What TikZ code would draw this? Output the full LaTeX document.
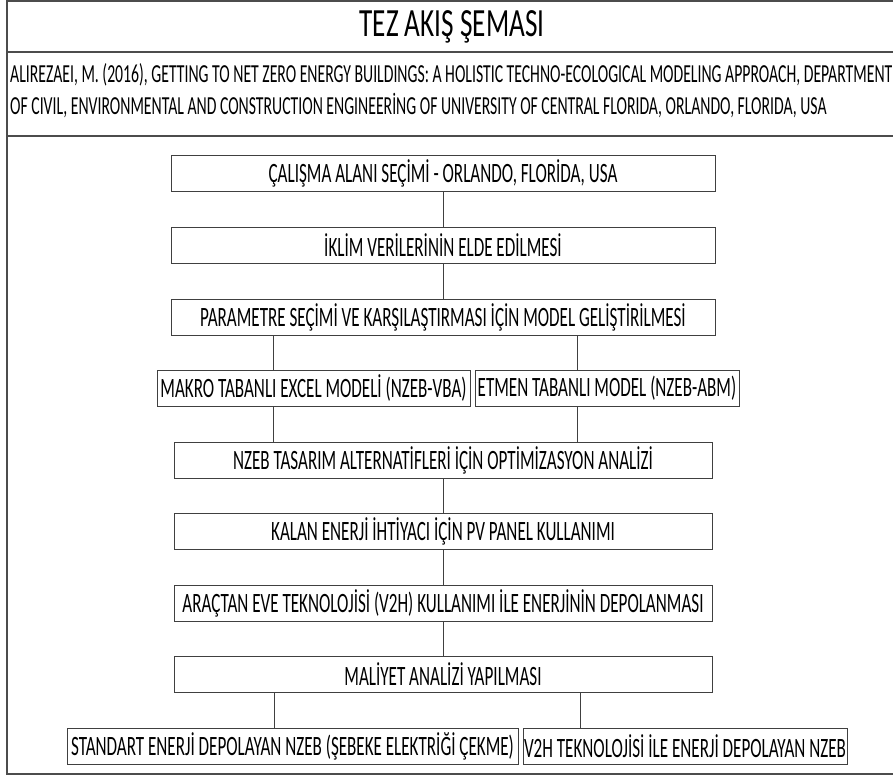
\documentclass[tikz,border=0pt]{standalone}
\usepackage{fontspec}
\setmainfont{Carlito}[FakeStretch=0.68]
\newfontfamily\stepfont{Carlito}[FakeStretch=0.61]
\newfontfamily\reffont{Carlito}[FakeStretch=0.605]
\begin{document}
\begin{tikzpicture}[x=1pt,y=-1pt,
  framel/.style={draw=black!70,line width=1.6pt},
  stepbox/.style={draw=black!75,line width=1pt,rectangle,minimum height=36pt,inner sep=0pt,
    font=\stepfont\fontsize{28}{32}\selectfont},
  link/.style={draw=black!75,line width=1pt}]
\useasboundingbox (0,0) rectangle (893,776);
% page frame and header dividers
\draw[framel] (930,1) -- (7,1) -- (7,774) -- (930,774);
\draw[framel] (7,52) -- (930,52);
\draw[framel] (7,136) -- (930,136);
\node (title) at (452,27) {\fontsize{40}{46}\selectfont TEZ AKIŞ ŞEMASI};
\node[anchor=west,align=left,inner sep=0pt,font=\reffont\fontsize{26}{32}\selectfont] (ref) at (10,91)
  {ALIREZAEI, M. (2016), GETTING TO NET ZERO ENERGY BUILDINGS: A HOLISTIC TECHNO-ECOLOGICAL MODELING APPROACH, DEPARTMENT\\
   OF CIVIL, ENVIRONMENTAL AND CONSTRUCTION ENGINEERİNG OF UNIVERSITY OF CENTRAL FLORIDA, ORLANDO, FLORIDA, USA};
% flow steps
\node[stepbox,minimum width=544pt] (b1) at (443,173.5) {ÇALIŞMA ALANI SEÇİMİ - ORLANDO, FLORİDA, USA};
\node[stepbox,minimum width=544pt] (b2) at (443,245.5) {İKLİM VERİLERİNİN ELDE EDİLMESİ};
\node[stepbox,minimum width=544pt] (b3) at (443,317) {PARAMETRE SEÇİMİ VE KARŞILAŞTIRMASI İÇİN MODEL GELİŞTİRİLMESİ};
\node[stepbox,minimum width=313pt] (b4a) at (313.5,388) {MAKRO TABANLI EXCEL MODELİ (NZEB-VBA)};
\node[stepbox,minimum width=264pt] (b4b) at (607,388) {ETMEN TABANLI MODEL (NZEB-ABM)};
\node[stepbox,minimum width=538pt] (b5) at (443,460) {NZEB TASARIM ALTERNATİFLERİ İÇİN OPTİMİZASYON ANALİZİ};
\node[stepbox,minimum width=538pt] (b6) at (443,531.5) {KALAN ENERJİ İHTİYACI İÇİN PV PANEL KULLANIMI};
\node[stepbox,minimum width=538pt] (b7) at (443,603) {ARAÇTAN EVE TEKNOLOJİSİ (V2H) KULLANIMI İLE ENERJİNİN DEPOLANMASI};
\node[stepbox,minimum width=538pt] (b8) at (443,674) {MALİYET ANALİZİ YAPILMASI};
\node[stepbox,minimum width=451pt] (b9a) at (292.5,746) {STANDART ENERJİ DEPOLAYAN NZEB (ŞEBEKE ELEKTRİĞİ ÇEKME)};
\node[stepbox,minimum width=324pt] (b9b) at (685,746) {V2H TEKNOLOJİSİ İLE ENERJİ DEPOLAYAN NZEB};
% connector columns
\coordinate (cl) at (273,0);
\coordinate (cr) at (577,0);
\coordinate (cl2) at (274,0);
\coordinate (cr2) at (580,0);
\draw[link] (b1) -- (b2);
\draw[link] (b2) -- (b3);
\draw[link] (b3.south -| cl) -- (b4a.north -| cl);
\draw[link] (b3.south -| cr) -- (b4b.north -| cr);
\draw[link] (b4a.south -| cl) -- (b5.north -| cl);
\draw[link] (b4b.south -| cr) -- (b5.north -| cr);
\draw[link] (b5) -- (b6);
\draw[link] (b6) -- (b7);
\draw[link] (b7) -- (b8);
\draw[link] (b8.south -| cl2) -- (b9a.north -| cl2);
\draw[link] (b8.south -| cr2) -- (b9b.north -| cr2);
\end{tikzpicture}
\end{document}
